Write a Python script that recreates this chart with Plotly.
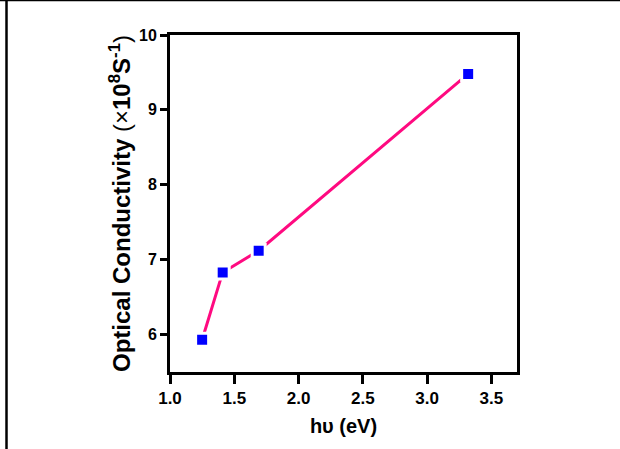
import plotly.graph_objects as go

# Photon energy (eV) and optical conductivity (x10^8 S^-1)
photon_energy = [1.25, 1.41, 1.69, 3.32]
optical_conductivity = [5.93, 6.83, 7.12, 9.48]

x_ticks = [1.0, 1.5, 2.0, 2.5, 3.0, 3.5]
x_tick_labels = ["1.0", "1.5", "2.0", "2.5", "3.0", "3.5"]
y_ticks = [6, 7, 8, 9, 10]
y_tick_labels = ["6", "7", "8", "9", "10"]

W, H = 620, 449
L, R, T, B = 170, 103, 35, 77
FONT = "Liberation Sans, Arial, sans-serif"

fig = go.Figure()
fig.add_trace(go.Scatter(
    x=photon_energy,
    y=optical_conductivity,
    mode="lines+markers",
    line=dict(color="#FF0A80", width=3),
    marker=dict(symbol="square", size=13, color="#0000FF",
                line=dict(color="white", width=3)),
    showlegend=False,
    cliponaxis=False,
))

pw = W - L - R
ph = H - T - B
# outer frame segments (top and left edges of the figure)
fig.add_shape(type="line", xref="paper", yref="paper",
              x0=(0 - L) / pw, x1=(W - L) / pw,
              y0=(H - 0.5 - B) / ph, y1=(H - 0.5 - B) / ph,
              line=dict(color="black", width=1.5))
fig.add_shape(type="line", xref="paper", yref="paper",
              x0=(6.5 - L) / pw, x1=(6.5 - L) / pw,
              y0=(H - 0 - B) / ph, y1=(0 - B) / ph,
              line=dict(color="black", width=2.5))

bold = lambda labels: [f"<b>{t}</b>" for t in labels]

fig.update_layout(
    width=W, height=H,
    margin=dict(l=L, r=R, t=T, b=B, pad=0),
    paper_bgcolor="white",
    plot_bgcolor="white",
    font=dict(family=FONT, color="black"),
    xaxis=dict(
        range=[1.0, 3.7],
        tickmode="array", tickvals=x_ticks, ticktext=bold(x_tick_labels),
        ticks="outside", ticklen=9, tickwidth=3, tickcolor="black",
        showline=True, linewidth=3, linecolor="black", mirror=True,
        showgrid=False, zeroline=False,
        tickfont=dict(size=17, family=FONT, color="black"),
        title=dict(text="<b>hυ (eV)</b>", font=dict(size=20, family=FONT),
                   standoff=12),
    ),
    yaxis=dict(
        range=[5.5, 10],
        tickmode="array", tickvals=y_ticks, ticktext=bold(y_tick_labels),
        ticks="outside", ticklen=7, tickwidth=3, tickcolor="black",
        showline=True, linewidth=3, linecolor="black", mirror=True,
        showgrid=False, zeroline=False,
        tickfont=dict(size=16, family=FONT, color="black"),
        title=dict(text="<b>Optical Conductivity</b> (×<b>10<sup>8</sup>S<sup>-1</sup></b>)",
                   font=dict(size=24, family=FONT), standoff=2),
    ),
)

fig.write_html("out.html")
